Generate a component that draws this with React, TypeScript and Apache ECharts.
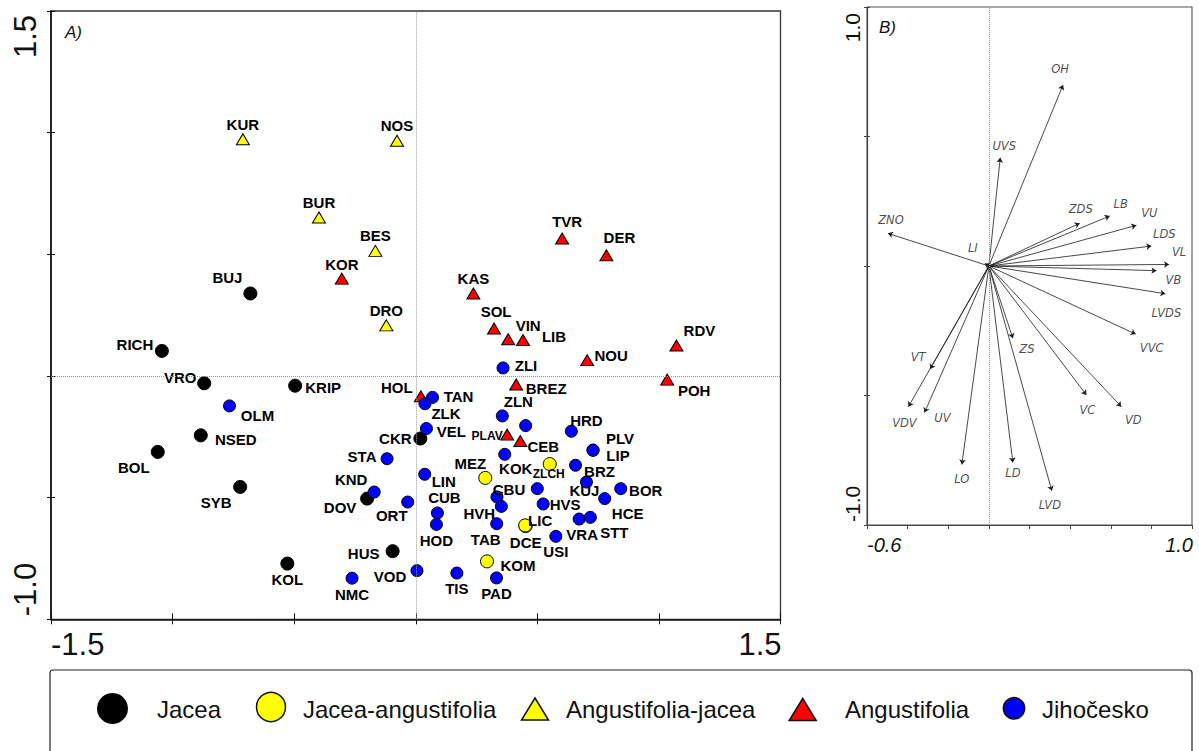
import React, { useEffect, useRef } from "react";
import * as echarts from "echarts";

// Site scores on the first two ordination axes: [site code, axis 1, axis 2]
type Site = [string, number, number];

const jacea: Site[] = [
  ["RICH", -1.044, 0.103],
  ["VRO", -0.87, -0.03],
  ["KRIP", -0.496, -0.04],
  ["NSED", -0.884, -0.244],
  ["BOL", -1.061, -0.312],
  ["SYB", -0.722, -0.456],
  ["BUJ", -0.68, 0.339],
  ["CKR", 0.019, -0.257],
  ["DOV", -0.2, -0.504],
  ["HUS", -0.095, -0.72],
  ["KOL", -0.528, -0.771],
];

const jaceaAngustifolia: Site[] = [
  ["MEZ", 0.286, -0.419],
  ["ZLCH", 0.551, -0.362],
  ["DCE", 0.452, -0.617],
  ["LIC", 0.45, -0.614],
  ["KOM", 0.293, -0.762],
];

const angustifoliaJacea: Site[] = [
  ["KUR", -0.711, 0.973],
  ["NOS", -0.077, 0.967],
  ["BUR", -0.398, 0.651],
  ["BES", -0.166, 0.514],
  ["DRO", -0.121, 0.208],
];

const angustifolia: Site[] = [
  ["KOR", -0.304, 0.4],
  ["TVR", 0.602, 0.565],
  ["DER", 0.784, 0.496],
  ["KAS", 0.237, 0.339],
  ["SOL", 0.322, 0.195],
  ["VIN", 0.38, 0.151],
  ["LIB", 0.441, 0.148],
  ["NOU", 0.705, 0.065],
  ["RDV", 1.072, 0.125],
  ["POH", 1.034, -0.015],
  ["BREZ", 0.413, -0.035],
  ["HOL", 0.021, -0.083],
  ["PLAV", 0.376, -0.241],
  ["CEB", 0.43, -0.267],
];

const jihocesko: Site[] = [
  ["OLM", -0.766, -0.123],
  ["STA", -0.118, -0.34],
  ["KND", -0.171, -0.477],
  ["ORT", -0.033, -0.518],
  ["NMC", -0.262, -0.831],
  ["VOD", 0.005, -0.8],
  ["ZLI", 0.359, 0.033],
  ["TAN", 0.069, -0.088],
  ["ZLK", 0.038, -0.114],
  ["ZLN", 0.356, -0.164],
  ["", 0.452, -0.204],
  ["VEL", 0.044, -0.216],
  ["HRD", 0.64, -0.227],
  ["PLV", 0.729, -0.305],
  ["LIP", 0.729, -0.305],
  ["KOK", 0.366, -0.322],
  ["BRZ", 0.657, -0.367],
  ["KUJ", 0.702, -0.436],
  ["BOR", 0.843, -0.463],
  ["HCE", 0.777, -0.504],
  ["LIN", 0.037, -0.404],
  ["CBU", 0.334, -0.497],
  ["HVH", 0.352, -0.536],
  ["", 0.5, -0.463],
  ["HVS", 0.524, -0.526],
  ["CUB", 0.089, -0.563],
  ["HOD", 0.085, -0.61],
  ["TAB", 0.333, -0.607],
  ["VRA", 0.672, -0.588],
  ["STT", 0.718, -0.581],
  ["USI", 0.576, -0.659],
  ["PAD", 0.332, -0.83],
  ["TIS", 0.169, -0.81],
];

// Trait vectors (biplot arrows)
const traitNames = [
  "OH", "UVS", "ZNO", "ZDS", "LB", "VU", "LDS", "VL", "VB", "LVDS", "VVC",
  "ZS", "VC", "VD", "VT", "VDV", "UV", "LO", "LD", "LVD", "LI",
];
const traitX = [
  0.365, 0.056, -0.497, 0.447, 0.595, 0.726, 0.8, 0.887, 0.825, 0.869, 0.723,
  0.118, 0.48, 0.652, -0.289, -0.396, -0.317, -0.133, 0.118, 0.31, -0.02,
];
const traitY = [
  0.699, 0.418, 0.126, 0.165, 0.193, 0.157, 0.077, 0.006, -0.018, -0.107, -0.263,
  -0.279, -0.498, -0.543, -0.398, -0.543, -0.566, -0.766, -0.759, -0.868, 0.01,
];

const groupNames = ["Jacea", "Jacea-angustifolia", "Angustifolia-jacea", "Angustifolia", "Jihočesko"];

// Axis end labels
const xTickLabelsA = ["-1.5", "1.5"];
const yTickLabelsA = ["-1.0", "1.5"];
const xTickLabelsB = ["-0.6", "1.0"];
const yTickLabelsB = ["-1.0", "1.0"];

// ---- layout & style ----
const GRID_A = { left: 51, top: 11, width: 729.5, height: 608.3 };
const GRID_B = { left: 867, top: 7, width: 325, height: 518 };
const SANS = "'Liberation Sans', Arial, sans-serif";
const VERDANA = "'DejaVu Sans', Verdana, sans-serif";

// label placement around each site marker (px)
const siteLabelNudge: Record<string, [number, number]> = {
  KUR: [0, -15], NOS: [0, -15], BUR: [0, -15], BES: [0, -15], KOR: [0, -14],
  BUJ: [-23, -16], DRO: [0, -15], TVR: [5, -17], DER: [13, -18], KAS: [0, -15],
  SOL: [2, -17], VIN: [20, -14], LIB: [31, -3], NOU: [24, -5], RDV: [23, -15],
  POH: [27, 11], ZLI: [23, -2], BREZ: [30, 4], HOL: [-24, -9], TAN: [26, -1],
  ZLK: [21, 10], ZLN: [16, -14], VEL: [25, 3], CKR: [-25, 0], PLAV: [-20, 1],
  CEB: [23, 6], HRD: [15, -11], PLV: [27, -12], LIP: [25, 5], KOK: [11, 14],
  ZLCH: [-1, 10], BRZ: [24, 6], KUJ: [-2, 8], BOR: [25, 2], HCE: [23, 15],
  MEZ: [-15, -14], LIN: [19, 7], CBU: [12, -7], HVH: [-22, 7], HVS: [22, 1],
  CUB: [7, -15], HOD: [0, 16], TAB: [-11, 16], LIC: [15, -5], DCE: [0, 16],
  VRA: [3, 15], STT: [24, 15], USI: [0, 15], KOM: [31, 4], PAD: [0, 16],
  TIS: [0, 15], VOD: [-27, 6], RICH: [-27, -6], VRO: [-24, -6], KRIP: [28, 2],
  OLM: [28, 10], NSED: [35, 4], BOL: [-24, 16], SYB: [-24, 16], STA: [-25, -2],
  KND: [-23, -13], DOV: [-27, 9], ORT: [-16, 13], HUS: [-29, 2], KOL: [0, 16],
  NMC: [0, 16],
};
const smallLabels = new Set(["PLAV", "ZLCH"]);

const traitLabelNudge: Record<string, [number, number]> = {
  OH: [-3, -16], UVS: [4, -12], ZNO: [3, -13], ZDS: [1, -14], LB: [11, -12],
  VU: [13, -12], LDS: [13, -12], VL: [10, -12], VB: [17, 9], LVDS: [1, 19],
  VVC: [16, 14], ZS: [14, 11], VC: [1, 15], VD: [12, 13], VT: [-12, -12],
  VDV: [-4, 16], UV: [18, 5], LO: [0, 15], LD: [0, 10], LVD: [-2, 14], LI: [-12, -15],
};

function siteData(sites: Site[]) {
  return sites.map(([name, x, y]) => ({
    name,
    value: [x, y],
    label: {
      show: name !== "",
      offset: siteLabelNudge[name] || [0, 0],
      fontSize: smallLabels.has(name) ? 12 : 15,
    },
  }));
}

const siteLabel = {
  show: true,
  position: "inside" as const,
  formatter: "{b}",
  color: "#000",
  fontWeight: "bold" as const,
  fontSize: 15,
  fontFamily: SANS,
  opacity: 1,
};

function buildOption(): echarts.EChartsOption {
  const xA = { min: parseFloat(xTickLabelsA[0]), max: parseFloat(xTickLabelsA[1]) };
  const yA = { min: parseFloat(yTickLabelsA[0]), max: parseFloat(yTickLabelsA[1]) };
  const xB = { min: parseFloat(xTickLabelsB[0]), max: parseFloat(xTickLabelsB[1]) };
  const yB = { min: parseFloat(yTickLabelsB[0]), max: parseFloat(yTickLabelsB[1]) };

  const axisBase = (color: string, width: number, tickLen: number, inside: boolean, showLine: boolean) => ({
    type: "value" as const,
    axisLine: { show: showLine, onZero: false, lineStyle: { color, width } },
    axisTick: { show: true, inside, length: tickLen, lineStyle: { color, width: 1 } },
    axisLabel: { show: false },
    splitLine: { show: false },
  });

  const zeroLine = (data: any[]) => ({
    silent: true,
    symbol: "none",
    label: { show: false },
    lineStyle: { type: "dotted" as const, color: "#9a9a9a", width: 1 },
    data,
  });

  const marker = (color: string) => ({ color, borderColor: "#000", borderWidth: 1, opacity: 1 });

  const groups: [string, Site[], string, string, number | number[]][] = [
    [groupNames[0], jacea, "circle", "#000000", 13],
    [groupNames[1], jaceaAngustifolia, "circle", "#ffff00", 13],
    [groupNames[2], angustifoliaJacea, "triangle", "#ffff00", [13, 11]],
    [groupNames[3], angustifolia, "triangle", "#ff0000", [13, 11]],
    [groupNames[4], jihocesko, "circle", "#0000ff", 12],
  ];

  const siteSeries = groups.map(([name, sites, symbol, color, size], i) => ({
    type: "scatter" as const,
    name,
    xAxisIndex: 0,
    yAxisIndex: 0,
    symbol,
    symbolSize: size as any,
    itemStyle: marker(color),
    label: siteLabel,
    z: 3,
    data: siteData(sites),
    ...(i === 0
      ? { markLine: zeroLine([{ xAxis: 0 }, { yAxis: 0 }]) }
      : {}),
  }));

  const tickText = (text: string, x: number, y: number, size: number, align: string, rotated: boolean, italic = false) => ({
    type: "text" as const,
    x,
    y,
    rotation: rotated ? Math.PI / 2 : 0,
    style: {
      text,
      x: 0,
      y: 0,
      align,
      verticalAlign: "middle",
      fontSize: size,
      fontFamily: SANS,
      fontStyle: italic ? "italic" : "normal",
      fill: "#111",
    },
  });

  const aRight = GRID_A.left + GRID_A.width;
  const aBottom = GRID_A.top + GRID_A.height;
  const bRight = GRID_B.left + GRID_B.width;
  const bBottom = GRID_B.top + GRID_B.height;

  const legendY = 709;
  const legendText = (text: string, x: number) => ({
    type: "text" as const,
    x,
    y: legendY,
    style: { text, x: 0, y: 0, align: "left", verticalAlign: "middle", fontSize: 24, fontFamily: SANS, fill: "#111" },
  });
  const tri = (cx: number, cy: number, w: number, h: number, fill: string) => ({
    type: "polygon" as const,
    shape: { points: [[cx, cy - h / 2], [cx + w / 2, cy + h / 2], [cx - w / 2, cy + h / 2]] },
    style: { fill, stroke: "#111", lineWidth: 1.5 },
  });

  return {
    animation: false,
    backgroundColor: "#ffffff",
    grid: [
      { ...GRID_A, show: true, borderColor: "#333", borderWidth: 1.3, backgroundColor: "transparent" },
      { ...GRID_B, show: true, borderColor: "#555", borderWidth: 1.1, backgroundColor: "transparent" },
    ],
    xAxis: [
      { ...axisBase("#111", 1.6, 5, false, true), gridIndex: 0, position: "bottom", ...xA, interval: 0.5 },
      { ...axisBase("#111", 1.6, 6, true, false), gridIndex: 0, position: "bottom", ...xA, interval: 0.5 },
      { ...axisBase("#444", 1.2, 4, false, true), gridIndex: 1, position: "bottom", ...xB, interval: 0.2 },
    ],
    yAxis: [
      { ...axisBase("#111", 1.6, 4, false, true), gridIndex: 0, position: "left", ...yA, interval: 0.5 },
      { ...axisBase("#111", 1.6, 4, true, false), gridIndex: 0, position: "left", ...yA, interval: 0.5 },
      { ...axisBase("#444", 1.2, 3, false, true), gridIndex: 1, position: "left", ...yB, interval: 0.5 },
      { ...axisBase("#444", 1.2, 3, true, false), gridIndex: 1, position: "left", ...yB, interval: 0.5 },
    ],
    series: [
      ...siteSeries,
      {
        type: "lines",
        name: "traits",
        coordinateSystem: "cartesian2d",
        xAxisIndex: 2,
        yAxisIndex: 2,
        symbol: ["none", "arrow"],
        symbolSize: 5,
        lineStyle: { color: "#1a1a1a", width: 0.8, opacity: 1 },
        silent: true,
        data: traitNames.map((name, i) => ({ name, coords: [[0, 0], [traitX[i], traitY[i]]] })),
      } as any,
      {
        type: "scatter",
        name: "trait labels",
        xAxisIndex: 2,
        yAxisIndex: 2,
        symbolSize: 1,
        itemStyle: { color: "transparent" },
        silent: true,
        label: {
          show: true,
          position: "inside",
          formatter: "{b}",
          color: "#1a1a1a",
          fontStyle: "italic",
          fontSize: 11.5,
          fontFamily: VERDANA,
        },
        markLine: zeroLine([{ xAxis: 0 }]),
        data: traitNames.map((name, i) => ({
          name,
          value: [traitX[i], traitY[i]],
          label: { offset: traitLabelNudge[name] || [0, 0] },
        })),
      },
    ],
    graphic: [
      // panel tags
      { type: "text", x: 65, y: 32, style: { text: "A)", fontSize: 17, fontStyle: "italic", fontFamily: SANS, fill: "#111", verticalAlign: "middle" } },
      { type: "text", x: 879, y: 27, style: { text: "B)", fontSize: 17, fontStyle: "italic", fontFamily: SANS, fill: "#111", verticalAlign: "middle" } },
      // panel A axis end labels
      tickText(xTickLabelsA[0], GRID_A.left, aBottom + 25, 31, "left", false),
      tickText(xTickLabelsA[1], aRight + 1, aBottom + 25, 31, "right", false),
      tickText(yTickLabelsA[1], GRID_A.left - 26, GRID_A.top + 4, 31, "right", true),
      tickText(yTickLabelsA[0], GRID_A.left - 26, aBottom - 3, 31, "left", true),
      // panel B axis end labels
      tickText(xTickLabelsB[0], GRID_B.left, bBottom + 20, 20, "left", false, true),
      tickText(xTickLabelsB[1], bRight + 1, bBottom + 20, 20, "right", false, true),
      tickText(yTickLabelsB[1], GRID_B.left - 15, GRID_B.top + 6, 21, "right", true),
      tickText(yTickLabelsB[0], GRID_B.left - 15, bBottom - 3, 21, "left", true),
      // legend
      {
        type: "rect",
        shape: { x: 50, y: 670, width: 1142, height: 110, r: 3 },
        style: { fill: "#fff", stroke: "#222", lineWidth: 1.2 },
      },
      { type: "circle", shape: { cx: 112.5, cy: 708.5, r: 15.5 }, style: { fill: "#000" } },
      legendText(groupNames[0], 157),
      { type: "circle", shape: { cx: 271, cy: 707, r: 14.5 }, style: { fill: "#ffff00", stroke: "#111", lineWidth: 1.5 } },
      legendText(groupNames[1], 303),
      tri(535, 709, 27, 22, "#ffff00"),
      legendText(groupNames[2], 566),
      tri(802.7, 709.5, 27, 22, "#ff0000"),
      legendText(groupNames[3], 845),
      { type: "circle", shape: { cx: 1014, cy: 708.3, r: 10.5 }, style: { fill: "#0000ff", stroke: "#111", lineWidth: 1.8 } },
      legendText(groupNames[4], 1042),
    ] as any,
  };
}

export default function App() {
  const ref = useRef<HTMLDivElement>(null);
  useEffect(() => {
    if (!ref.current) return;
    const chart = echarts.init(ref.current, undefined, { renderer: "svg" });
    chart.setOption(buildOption());
    return () => chart.dispose();
  }, []);
  return (
    <div
      ref={ref}
      style={{ position: "fixed", left: 0, top: 0, width: 1199, height: 751, background: "#fff" }}
    />
  );
}
